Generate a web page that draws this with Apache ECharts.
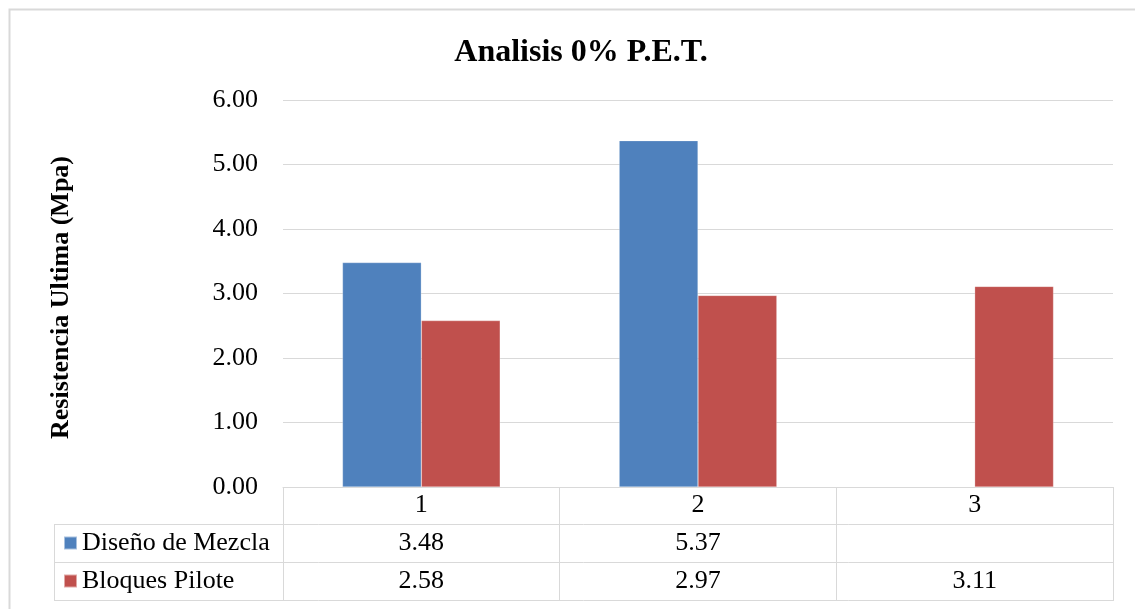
<!DOCTYPE html>
<html>
<head>
<meta charset="utf-8">
<script src="https://cdn.jsdelivr.net/npm/echarts@6/dist/echarts.min.js"></script>
<style>html,body{margin:0;padding:0;background:#fff;}#c{width:1135px;height:609px;}</style>
</head>
<body>
<div id="c"></div>
<script>
var categories = ['1', '2', '3'];
var seriesNames = ['Diseño de Mezcla', 'Bloques Pilote'];
var disenoMezcla = [3.48, 5.37, null];
var bloquesPilote = [2.58, 2.97, 3.11];
var yTicks = { min: 0, max: 6, interval: 1 };
var titleText = 'Analisis 0% P.E.T.';
var yAxisName = 'Resistencia Ultima (Mpa)';

var FONT = "'Liberation Serif', 'Times New Roman', serif";
var GRID_COLOR = '#D9D9D9';
var colors = ['#4F81BD', '#C0504D'];

function fmt(v) { return (v === null || v === undefined) ? '' : v.toFixed(2); }

var chart = echarts.init(document.getElementById('c'), null, { renderer: 'canvas' });

function tableRowAxis(values, offset) {
  return {
    type: 'category',
    gridIndex: 0,
    position: 'bottom',
    offset: offset,
    data: categories,
    axisLine: { show: false },
    axisTick: { show: false },
    splitLine: { show: false },
    axisLabel: {
      margin: 19,
      verticalAlign: 'middle',
      fontFamily: FONT,
      fontSize: 26,
      color: '#000',
      formatter: function (v, i) { return fmt(values[i]); }
    }
  };
}

var option = {
  backgroundColor: '#fff',
  animation: false,
  color: colors,
  title: {
    text: titleText,
    left: 576,
    textAlign: 'center',
    top: 32,
    textStyle: { fontFamily: FONT, fontSize: 32, fontWeight: 'bold', color: '#000' }
  },
  legend: {
    orient: 'vertical',
    left: 63,
    top: 530,
    padding: 0,
    itemGap: 12,
    itemWidth: 13,
    itemHeight: 13,
    icon: 'rect',
    data: seriesNames,
    textStyle: { fontFamily: FONT, fontSize: 26, color: '#000', lineHeight: 26 }
  },
  grid: { left: 283, right: 22, top: 100, bottom: 122, containLabel: false },
  xAxis: [
    {
      type: 'category',
      data: categories,
      position: 'bottom',
      axisLine: { show: true, lineStyle: { color: GRID_COLOR, width: 1 } },
      axisTick: { show: true, length: 114, inside: false, lineStyle: { color: GRID_COLOR, width: 1 } },
      axisLabel: { margin: 18, verticalAlign: 'middle', fontFamily: FONT, fontSize: 26, color: '#000' },
      splitLine: { show: false }
    },
    tableRowAxis(disenoMezcla, 37),
    tableRowAxis(bloquesPilote, 75)
  ],
  yAxis: {
    type: 'value',
    min: yTicks.min,
    max: yTicks.max,
    interval: yTicks.interval,
    name: yAxisName,
    nameLocation: 'middle',
    nameGap: 209,
    nameTextStyle: { fontFamily: FONT, fontSize: 26, fontWeight: 'bold', color: '#000', padding: [0, 8, 0, 0] },
    axisLine: { show: false },
    axisTick: { show: false },
    axisLabel: { margin: 25, fontFamily: FONT, fontSize: 26, color: '#000', formatter: function (v) { return v.toFixed(2); } },
    splitLine: { show: true, lineStyle: { color: GRID_COLOR, width: 1 } }
  },
  series: [
    {
      name: seriesNames[0], type: 'bar', data: disenoMezcla,
      barGap: '0%', barCategoryGap: '43%',
      itemStyle: { color: colors[0], borderColor: 'rgba(255,255,255,0.5)', borderWidth: 0.5 }
    },
    {
      name: seriesNames[1], type: 'bar', data: bloquesPilote,
      barGap: '0%', barCategoryGap: '43%',
      itemStyle: { color: colors[1], borderColor: 'rgba(255,255,255,0.5)', borderWidth: 0.5 }
    }
  ],
  graphic: [
    { type: 'rect', silent: true, z: -1, shape: { x: 9.5, y: 9.5, width: 1200, height: 800 }, style: { fill: null, stroke: GRID_COLOR, lineWidth: 2 } },
    { type: 'line', silent: true, shape: { x1: 54, y1: 524.5, x2: 1113, y2: 524.5 }, style: { stroke: GRID_COLOR, lineWidth: 1 } },
    { type: 'line', silent: true, shape: { x1: 54, y1: 562.5, x2: 1113, y2: 562.5 }, style: { stroke: GRID_COLOR, lineWidth: 1 } },
    { type: 'line', silent: true, shape: { x1: 54, y1: 600.5, x2: 1113, y2: 600.5 }, style: { stroke: GRID_COLOR, lineWidth: 1 } },
    { type: 'line', silent: true, shape: { x1: 54.5, y1: 524, x2: 54.5, y2: 601 }, style: { stroke: GRID_COLOR, lineWidth: 1 } }
  ]
};
chart.setOption(option);
</script>
</body>
</html>
